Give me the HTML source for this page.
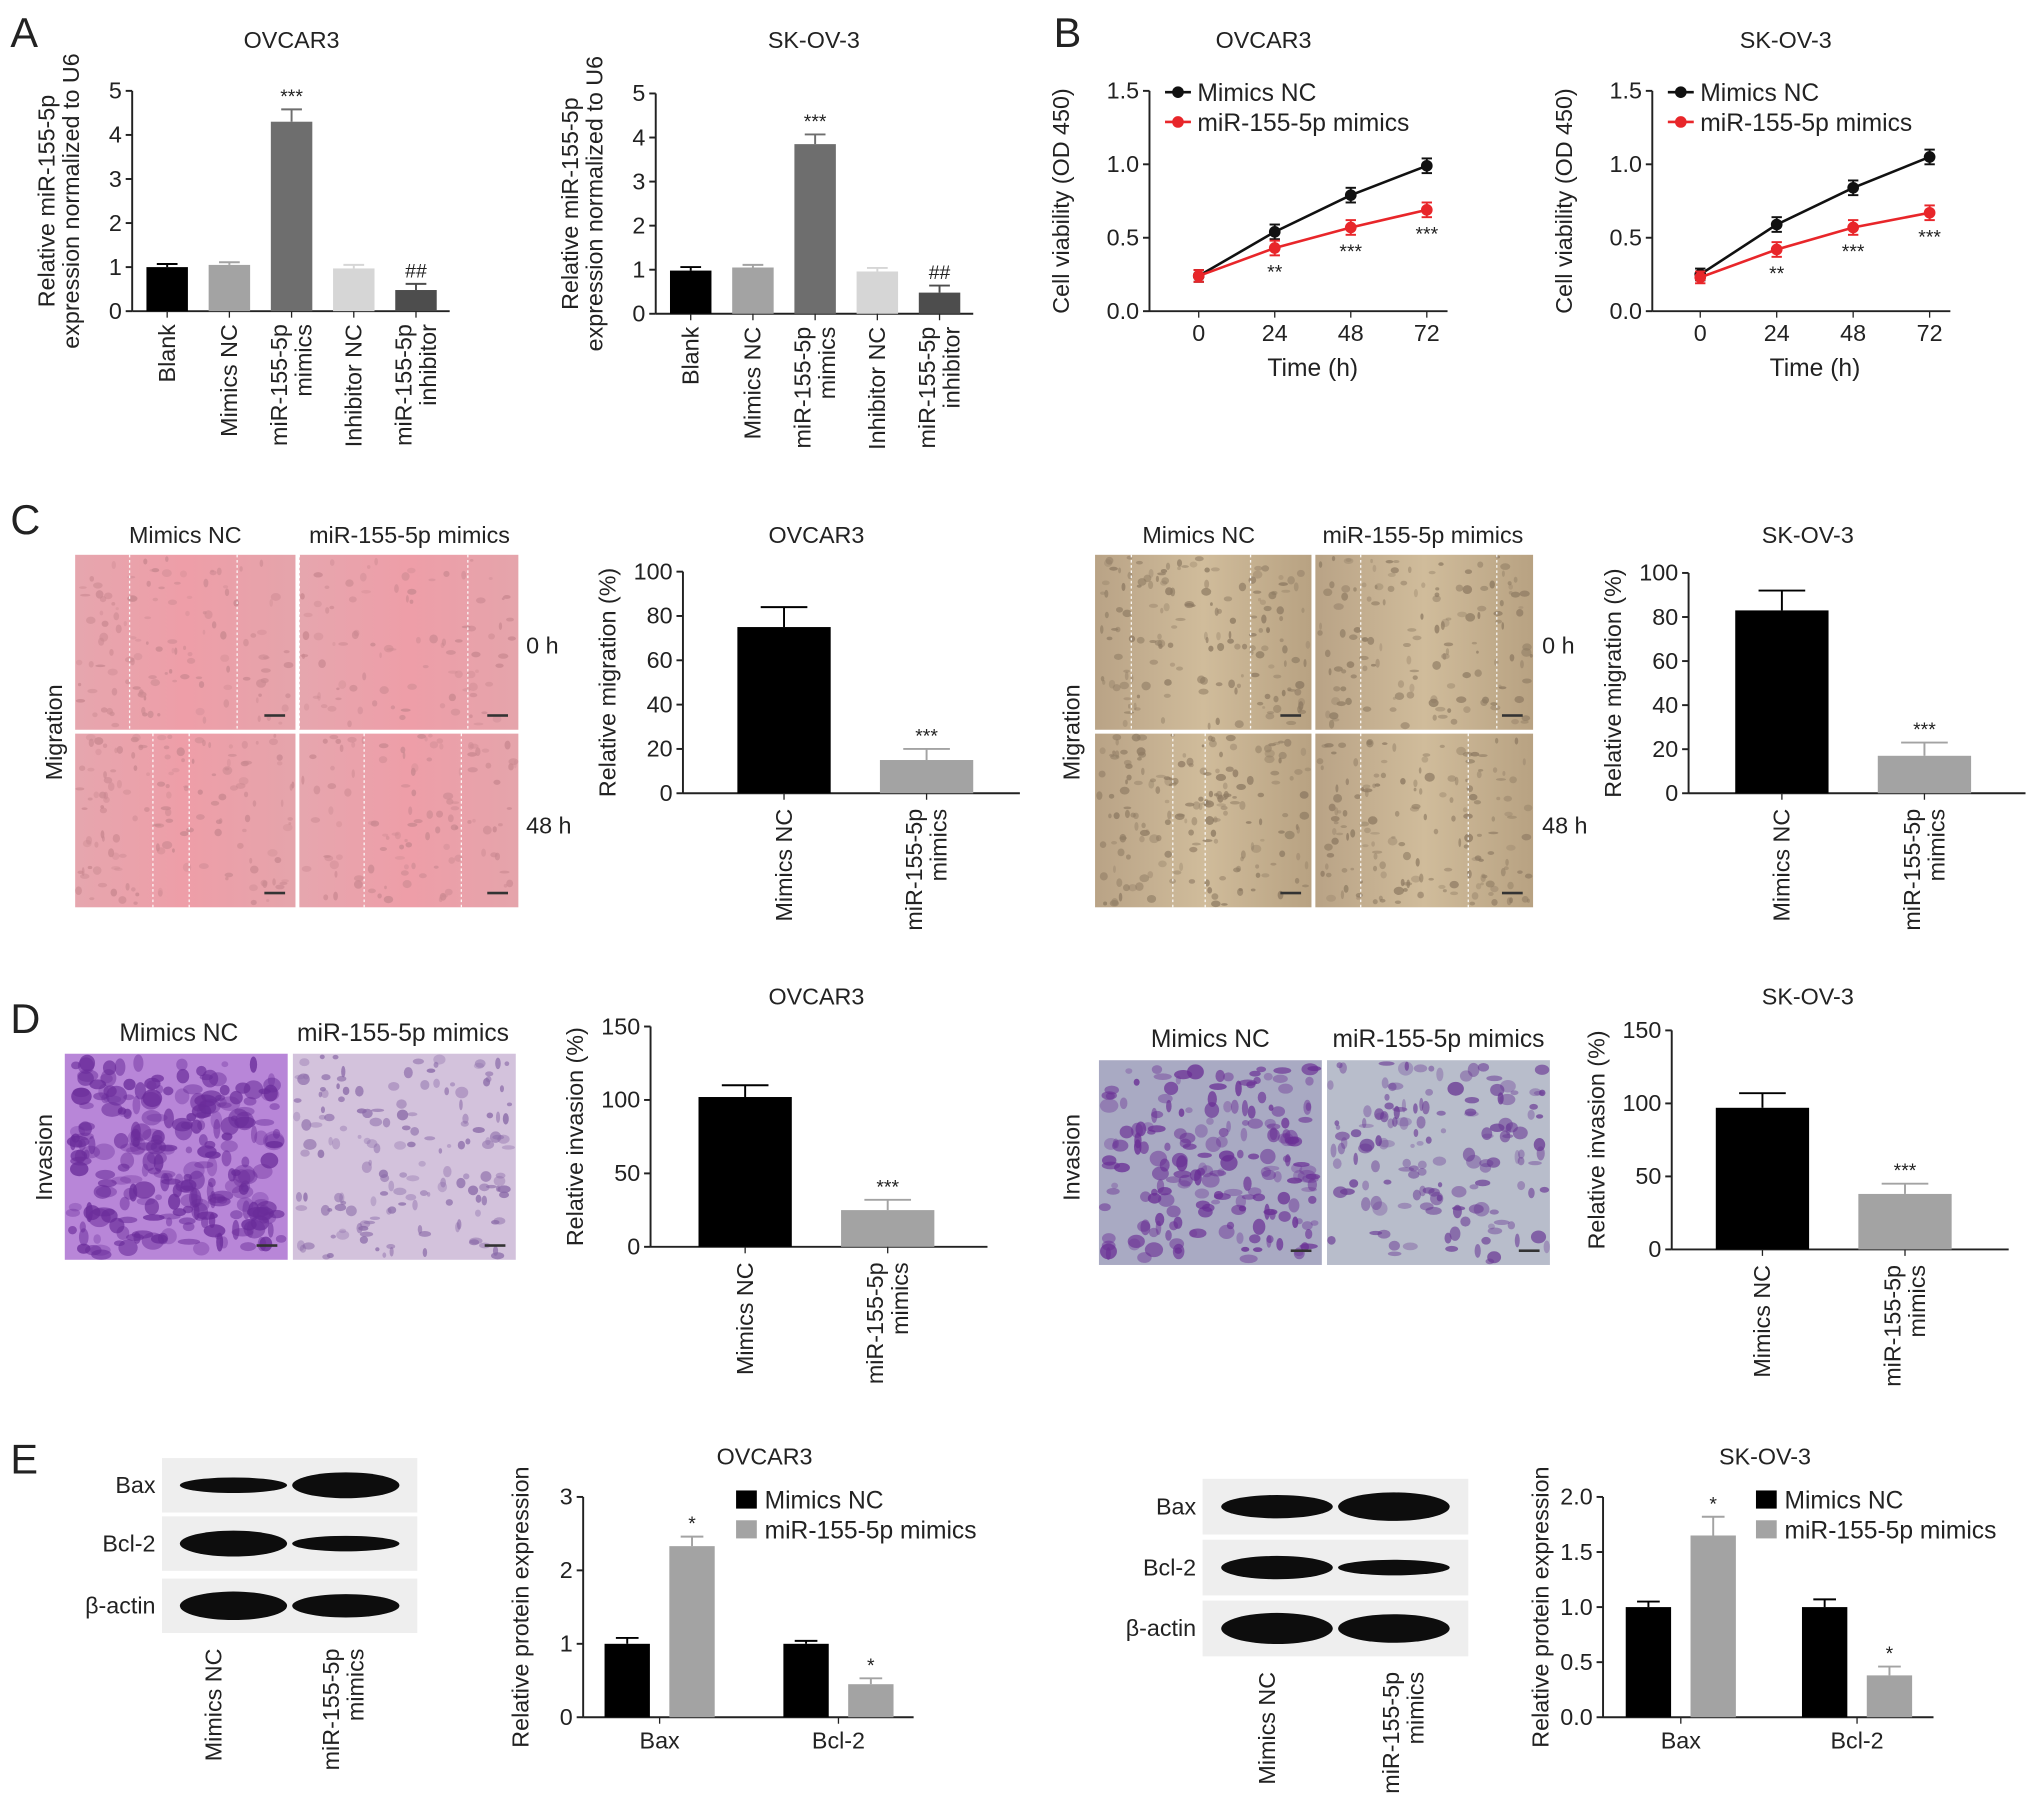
<!DOCTYPE html>
<html><head><meta charset="utf-8"><style>
html,body{margin:0;padding:0;background:#fff;}
svg{display:block;font-family:"Liberation Sans",Arial,sans-serif;}
</style></head><body>
<svg id="fig" xmlns="http://www.w3.org/2000/svg" width="2032" height="1812" viewBox="0 0 1568 1398">
<defs>
<linearGradient id="pink" x1="0" x2="1"><stop offset="0" stop-color="#e6a6ae"/><stop offset="0.5" stop-color="#ee9ea8"/><stop offset="1" stop-color="#e5a4ab"/></linearGradient>
<linearGradient id="brown" x1="0" x2="1"><stop offset="0" stop-color="#b9a386"/><stop offset="0.5" stop-color="#d0bc9b"/><stop offset="1" stop-color="#b8a282"/></linearGradient>
</defs>
<g id="root"></g>
</svg>
<script>
// ---- data ----
const catsA = ["Blank","Mimics NC","miR-155-5p|mimics","Inhibitor NC","miR-155-5p|inhibitor"];
const valsA_OV = [1.0,1.05,4.3,0.97,0.48];
const errA_OV = [0.07,0.06,0.28,0.08,0.14];
const valsA_SK = [0.98,1.05,3.85,0.96,0.48];
const errA_SK = [0.08,0.06,0.22,0.08,0.16];
const ticksA = [0,1,2,3,4,5];
const timeB = [0,24,48,72];
const ncB_OV = [0.24,0.54,0.79,0.99];
const miB_OV = [0.24,0.43,0.57,0.69];
const ncB_SK = [0.25,0.59,0.84,1.05];
const miB_SK = [0.23,0.42,0.57,0.67];
const errB = [0.04,0.05,0.05,0.05];
const ticksB = [0.0,0.5,1.0,1.5];
const cats2 = ["Mimics NC","miR-155-5p|mimics"];
const migOV = [75,15]; const migOVerr=[9,5];
const migSK = [83,17]; const migSKerr=[9,6];
const ticksC = [0,20,40,60,80,100];
const invOV = [102,25]; const invOVerr=[8,7];
const invSK = [97,38]; const invSKerr=[10,7];
const ticksD = [0,50,100,150];
const catsE = ["Bax","Bcl-2"];
const ncE_OV=[1.0,1.0], miE_OV=[2.33,0.45], ncEerr_OV=[0.08,0.04], miEerr_OV=[0.13,0.08];
const ncE_SK=[1.0,1.0], miE_SK=[1.65,0.38], ncEerr_SK=[0.05,0.07], miEerr_SK=[0.17,0.08];
const ticksE_OV=[0,1,2,3], ticksE_SK=[0.0,0.5,1.0,1.5,2.0];

const NS="http://www.w3.org/2000/svg";
const root=document.getElementById('root');
function el(tag,attrs,parent,text){const e=document.createElementNS(NS,tag);for(const k in attrs)e.setAttribute(k,attrs[k]);if(text!==undefined)e.textContent=text;(parent||root).appendChild(e);return e;}
function txt(x,y,s,size,anchor,name,parent,rot){const t=el('text',{x:x,y:y,'font-size':size,'text-anchor':anchor||'middle',fill:'#222'},parent,s);
if(rot)t.setAttribute('transform','rotate(-90 '+x+' '+y+')');

return t;}
function ytitle(x,y,lines,name){lines.forEach((l,i)=>txt(x+i*19,y,l,18,'middle',name,null,true));}
function axes(ax,x1,y0,yTop,max,ticks,dec,name){
 const g=el('g',{});
 
 
 const sy=v=>y0-(v/max)*(y0-yTop);
 el('line',{x1:ax,y1:y0,x2:ax,y2:yTop,stroke:'#222','stroke-width':1.5},g);
 el('line',{x1:ax,y1:y0,x2:x1,y2:y0,stroke:'#222','stroke-width':1.5},g);
 ticks.forEach(t=>{el('line',{x1:ax-5,y1:sy(t),x2:ax,y2:sy(t),stroke:'#222','stroke-width':1.5},g);
  txt(ax-8,sy(t)+6,dec?t.toFixed(1):String(t),18,'end','y-tick-label',g);});
 return sy;}
function bar(cx,w,v,e,sy,y0,color,name,star){
 const r=el('rect',{x:cx-w/2,y:sy(v),width:w,height:y0-sy(v),fill:color});
 
 
 const ye=sy(v+e);
 el('line',{x1:cx,y1:sy(v),x2:cx,y2:ye,stroke:color,'stroke-width':1.5});
 el('line',{x1:cx-w/4,y1:ye,x2:cx+w/4,y2:ye,stroke:color,'stroke-width':1.5});
 if(star)txt(cx,ye-5,star,15,'middle','significance-mark');}
function catLabel(cx,y,s,name){const parts=s.split('|');
 parts.forEach((p,i)=>txt(cx+(i-(parts.length-1)/2)*19+6,y,p,18,'end',name,null,true));}

// panel letters
[['A',8,36],['B',813,36],['C',8,412],['D',8,797],['E',8,1137]].forEach(p=>txt(p[1],p[2],p[0],32,'start','panel-label-'+p[0].toLowerCase()));

// ---- Panel A ----
function panelA(ax,y0,centers,vals,errs,title,tx,key){
 const sy=axes(ax,ax+245,y0,y0-170,5,ticksA,false,'axes-a-'+key);
 txt(tx,37,title,18,'middle','chart-title-a-'+key);
 ytitle(ax-60,y0-85,['Relative miR-155-5p','expression normalized to U6'],'y-axis-title');
 const cols=['#000','#a3a3a3','#6e6e6e','#d6d6d6','#4d4d4d'];
 const stars=['','','***','','##'];
 vals.forEach((v,i)=>{bar(centers[i],32,v,errs[i],sy,y0,cols[i],'bar-'+i,stars[i]);
  el('line',{x1:centers[i],y1:y0,x2:centers[i],y2:y0+5,stroke:'#222'});
  catLabel(centers[i],y0+10,catsA[i],'x-tick-label');});}
panelA(102,240,[129,177,225,273,321],valsA_OV,errA_OV,'OVCAR3',225,'ovcar3');
panelA(506,242,[533,581,629,677,725],valsA_SK,errA_SK,'SK-OV-3',628,'skov3');

// ---- Panel B ----
function panelB(ax,xs,nc,mi,title,tx,key){
 const y0=240;const sy=axes(ax,ax+230,y0,70,1.5,ticksB,true,'axes-b-'+key);
 txt(tx,37,title,18,'middle','chart-title-b-'+key);
 ytitle(ax-62,155,['Cell viability (OD 450)'],'y-axis-title');
 const sx=t=>xs[0]+(t/72)*(xs[1]-xs[0]);
 timeB.forEach(t=>{el('line',{x1:sx(t),y1:y0,x2:sx(t),y2:y0+5,stroke:'#222'});txt(sx(t),y0+23,String(t),18,'middle','x-tick-label');});
 txt((xs[0]+xs[1])/2,y0+50,'Time (h)',19,'middle','x-axis-title');
 [[nc,'#111','mimics-nc'],[mi,'#e8262a','mir-155-5p-mimics']].forEach(s=>{
  const d=s[0].map((v,i)=>(i?'L':'M')+sx(timeB[i])+' '+sy(v)).join(' ');
  const p=el('path',{d:d,stroke:s[1],fill:'none','stroke-width':2});
  
  
  s[0].forEach((v,i)=>{const x=sx(timeB[i]);el('line',{x1:x,y1:sy(v-errB[i]),x2:x,y2:sy(v+errB[i]),stroke:s[1],'stroke-width':1.5});
   el('line',{x1:x-4,y1:sy(v+errB[i]),x2:x+4,y2:sy(v+errB[i]),stroke:s[1],'stroke-width':1.5});
   el('line',{x1:x-4,y1:sy(v-errB[i]),x2:x+4,y2:sy(v-errB[i]),stroke:s[1],'stroke-width':1.5});
   const c=el('circle',{cx:x,cy:sy(v),r:4.5,fill:s[1]});
   
   });});
 ['','**','***','***'].forEach((st,i)=>{if(st)txt(sx(timeB[i]),sy(mi[i]-errB[i])+18,st,15,'middle','significance-mark');});
 [['Mimics NC','#111',71],['miR-155-5p mimics','#e8262a',94]].forEach((l,i)=>{
  el('line',{x1:ax+12,y1:l[2],x2:ax+32,y2:l[2],stroke:l[1],'stroke-width':2});el('circle',{cx:ax+22,cy:l[2],r:4.5,fill:l[1]});
  txt(ax+37,l[2]+7,l[0],19,'start','legend-entry');});}
panelB(887,[925,1101],ncB_OV,miB_OV,'OVCAR3',975,'ovcar3');
panelB(1275,[1312,1489],ncB_SK,miB_SK,'SK-OV-3',1378,'skov3');

// ---- images ----
let seed=7;function rnd(){seed=(seed*9301+49297)%233280;return seed/233280;}
function micro(x,y,w,h,fill,name,lines,dots,dotCol,big){
 const g=el('g',{});
 
 
 el('rect',{x:x,y:y,width:w,height:h,fill:fill},g);
 const s=big||1;
 for(let i=0;i<dots;i++){const rx=(1+rnd()*3)*s,ry=(1+rnd()*2.5)*s;el('ellipse',{cx:x+rx+rnd()*(w-2*rx),cy:y+ry+rnd()*(h-2*ry),rx:rx,ry:ry,fill:dotCol,opacity:0.3+rnd()*0.5},g);}
 (lines||[]).forEach(lx=>el('line',{x1:x+lx,y1:y,x2:x+lx,y2:y+h,stroke:'#fff','stroke-width':1,'stroke-dasharray':'2 2',opacity:0.9},g));
 el('rect',{x:x+w-24,y:y+h-12,width:16,height:2,fill:'#333'},g);}
// C
txt(143,419,'Mimics NC',18,'middle','image-column-label');txt(316,419,'miR-155-5p mimics',18,'middle','image-column-label');
txt(48,565,'Migration',18,'middle','row-label',null,true);
micro(58,428,170,135,'url(#pink)','wound-image',[42,125],120,'#c98890');
micro(231,428,169,135,'url(#pink)','wound-image',[0,130],90,'#c98890');
micro(58,566,170,134,'url(#pink)','wound-image',[60,88],140,'#c98890');
micro(231,566,169,134,'url(#pink)','wound-image',[50,125],110,'#c98890');
txt(406,504,'0 h',18,'start','time-label');txt(406,643,'48 h',18,'start','time-label');
txt(925,419,'Mimics NC',18,'middle','image-column-label');txt(1098,419,'miR-155-5p mimics',18,'middle','image-column-label');
txt(833,565,'Migration',18,'middle','row-label',null,true);
micro(845,428,167,135,'url(#brown)','wound-image',[28,120],160,'#8d7a62');
micro(1015,428,168,135,'url(#brown)','wound-image',[35,140],140,'#8d7a62');
micro(845,566,167,134,'url(#brown)','wound-image',[60,85],180,'#8d7a62');
micro(1015,566,168,134,'url(#brown)','wound-image',[35,118],160,'#8d7a62');
txt(1190,504,'0 h',18,'start','time-label');txt(1190,643,'48 h',18,'start','time-label');
// D
txt(138,803,'Mimics NC',19,'middle','image-column-label');txt(311,803,'miR-155-5p mimics',19,'middle','image-column-label');
txt(40,893,'Invasion',18,'middle','row-label',null,true);
micro(50,813,172,159,'#b886d8','transwell-image',[],260,'#6a2c9a',2.2);
micro(226,813,172,159,'#d3c2dc','transwell-image',[],160,'#8a6aa8',1.3);
txt(934,808,'Mimics NC',19,'middle','image-column-label');txt(1110,808,'miR-155-5p mimics',19,'middle','image-column-label');
txt(833,893,'Invasion',18,'middle','row-label',null,true);
micro(848,818,172,158,'#a9aac3','transwell-image',[],200,'#6a2f95',1.8);
micro(1024,818,172,158,'#b8bdcb','transwell-image',[],150,'#6a3a95',1.6);

function twoBar(ax,y0,yTop,max,ticks,centers,vals,errs,title,tx,ty,ylab,key){
 const sy=axes(ax,ax+260,y0,yTop,max,ticks,false,'axes-'+key);
 txt(tx,ty,title,18,'middle','chart-title-'+key);
 ytitle(ax-52,(y0+yTop)/2,[ylab],'y-axis-title');
 const cols=['#000','#a3a3a3'];
 vals.forEach((v,i)=>{bar(centers[i],72,v,errs[i],sy,y0,cols[i],'bar-'+cats2[i].replace('|','-'),i?'***':'');
  el('line',{x1:centers[i],y1:y0,x2:centers[i],y2:y0+5,stroke:'#222'});
  catLabel(centers[i],y0+12,cats2[i],'x-tick-label');});}
twoBar(527,612,441,100,ticksC,[605,715],migOV,migOVerr,'OVCAR3',630,419,'Relative migration (%)','c-ovcar3');
twoBar(1303,612,442,100,ticksC,[1375,1485],migSK,migSKerr,'SK-OV-3',1395,419,'Relative migration (%)','c-skov3');
twoBar(502,962,792,150,ticksD,[575,685],invOV,invOVerr,'OVCAR3',630,775,'Relative invasion (%)','d-ovcar3');
twoBar(1290,964,795,150,ticksD,[1360,1470],invSK,invSKerr,'SK-OV-3',1395,775,'Relative invasion (%)','d-skov3');

// ---- Panel E ----
function blot(x,ys,w,h,labels,widths,name){
 const g=el('g',{});
 
 
 ys.forEach((y,r)=>{el('rect',{x:x,y:y,width:w,height:h,fill:'#eeeeee'},g);
  widths[r].forEach((bw,c)=>{el('ellipse',{cx:x+w*(c?0.72:0.28),cy:y+h/2,rx:w*0.21,ry:bw,fill:'#0d0d0d'},g);});
  txt(x-5,y+h/2+6,labels[r],18,'end','blot-label',g);});}
blot(125,[1125,1170,1218],197,42,['Bax','Bcl-2','β-actin'],[[6,10],[10,6],[11,9]],'western-blot');
catLabel(165,1272,'Mimics NC','blot-lane-label');catLabel(265,1272,'miR-155-5p|mimics','blot-lane-label');
blot(928,[1141,1188,1235],205,43,['Bax','Bcl-2','β-actin'],[[9,11],[9,6],[12,11]],'western-blot');
catLabel(978,1290,'Mimics NC','blot-lane-label');catLabel(1083,1290,'miR-155-5p|mimics','blot-lane-label');

function panelE(ax,max,ticks,dec,groups,nc,mi,ncE,miE,title,tx,key){
 const y0=1325;const sy=axes(ax,ax+255,y0,1155,max,ticks,dec,'axes-e-'+key);
 txt(tx,1130,title,18,'middle','chart-title-e-'+key);
 ytitle(ax-42,1240,['Relative protein expression'],'y-axis-title');
 catsE.forEach((c,i)=>{const g=groups[i];
  bar(g-25,35,nc[i],ncE[i],sy,y0,'#000','bar-mimics-nc-'+c);
  bar(g+25,35,mi[i],miE[i],sy,y0,'#a3a3a3','bar-mir-155-5p-mimics-'+c,'*');
  el('line',{x1:g,y1:y0,x2:g,y2:y0+5,stroke:'#222'});
  txt(g,y0+24,c,18,'middle','x-tick-label');});
 [['Mimics NC','#000',1157],['miR-155-5p mimics','#a3a3a3',1180]].forEach(l=>{
  el('rect',{x:ax+118,y:l[2]-7,width:16,height:14,fill:l[1]});txt(ax+140,l[2]+7,l[0],19,'start','legend-entry');});}
panelE(450,3,ticksE_OV,false,[509,647],ncE_OV,miE_OV,ncEerr_OV,miEerr_OV,'OVCAR3',590,'ovcar3');
panelE(1237,2,ticksE_SK,true,[1297,1433],ncE_SK,miE_SK,ncEerr_SK,miEerr_SK,'SK-OV-3',1362,'skov3');
</script>
</body></html>
